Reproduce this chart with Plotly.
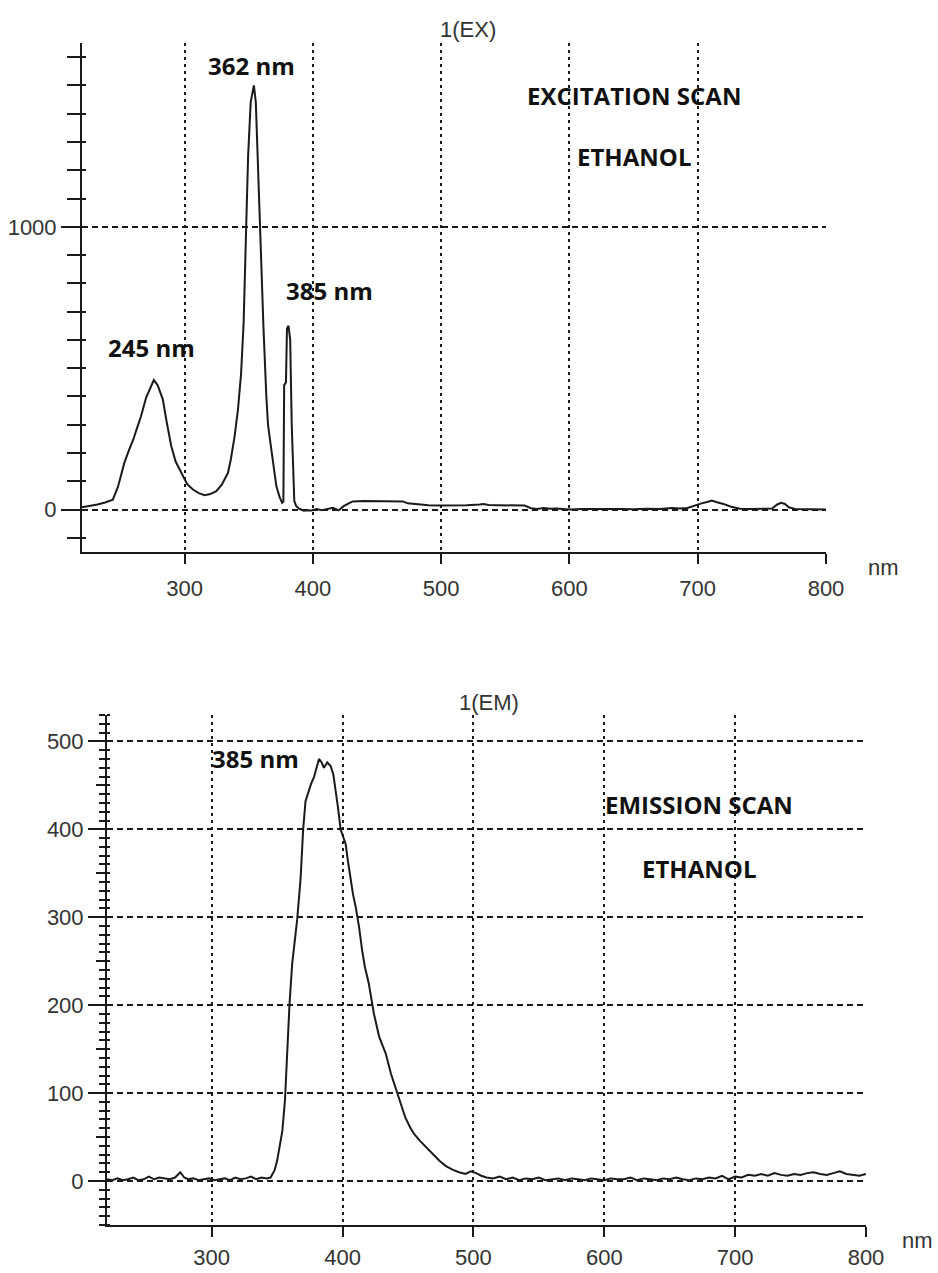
import plotly.graph_objects as go

# ---------------- data ----------------
ex_wavelength = [220, 226, 232, 238, 244, 248, 253, 257, 260, 263, 266, 270, 273, 276, 279, 283, 286,
                 289.6, 293, 298.7, 302, 306.5, 311, 315.6, 320, 324.7, 329, 333.8, 336, 339, 341.6,
                 344, 346, 348, 349.5, 351.5, 353, 354, 355.5, 356.7, 358.5, 360.3, 361.5, 363.7, 365,
                 367.6, 369.5, 371.5, 374, 376, 377, 377.6, 379, 379.8, 381, 382.3, 383.5, 384.5, 385.5,
                 387, 389.7, 393, 396, 399, 403, 407, 411, 415.7, 420, 424, 428, 431, 440, 450, 460,
                 470, 474, 480, 483, 490, 500, 510, 520, 530, 533, 537, 545, 555, 565, 570, 575, 580,
                 585, 590, 600, 610, 620, 630, 640, 650, 660, 670, 680, 686, 692, 697, 703, 708, 711,
                 715, 720, 726, 733, 740, 750, 758, 762, 765, 768, 771, 776, 785, 795, 800]
ex_intensity = [8, 12, 18, 25, 35, 80, 165, 215, 248, 290, 330, 396, 430, 458, 440, 390, 310,
                224, 170, 118, 90, 71, 58, 51, 55, 65, 88, 130, 177, 260, 354,
                480, 660, 1000, 1250, 1440, 1480, 1500, 1440, 1280, 1003, 800, 640, 401, 300,
                212, 140, 83, 45, 24, 28, 440, 450, 640, 650, 600, 300, 120, 30,
                12, 2, -4, -2, -3, 2, -2, 1, 6, -3, 12, 22, 29, 30, 30, 30,
                29, 22, 19, 17, 15, 14, 14, 15, 18, 20, 16, 15, 15, 14, 5, 2, 6,
                3, 4, 0, 2, 1, 2, 2, 1, 3, 2, 6, 4, 6, 14, 22, 28, 32,
                26, 20, 10, 3, 2, 2, 4, 18, 24, 20, 8, 2, 1, 1, 0]

em_wavelength = [220, 224, 228, 232, 236, 240, 244, 248, 252, 256, 260, 264, 268, 272, 276, 279, 282,
                 286, 290, 294, 298, 302, 306, 310, 314, 318, 322, 326, 330, 334, 338, 342, 345, 348,
                 350, 352, 354, 356, 357.7, 359.5, 361.5, 363.5, 365.3, 367.9, 369.9, 371.7, 374.3,
                 376, 378.1, 380, 382, 384, 385.8, 388.3, 390.9, 393, 394.7, 396.5, 398.5, 400.5,
                 402.4, 404, 406.2, 408, 410, 412.6, 415, 417, 420, 424, 428, 433, 437, 441, 445,
                 448, 452, 455, 459, 464, 469, 474, 479, 484, 489, 494, 498, 502, 506, 510, 515,
                 520, 525, 530, 535, 540, 545, 550, 555, 560, 565, 570, 575, 580, 585, 590, 595,
                 600, 605, 610, 615, 620, 625, 630, 635, 640, 645, 650, 655, 660, 665, 670, 675,
                 680, 685, 690, 695, 700, 705, 710, 715, 720, 725, 730, 735, 740, 745, 750, 755,
                 760, 765, 770, 775, 780, 785, 790, 795, 800]
em_intensity = [2, 1, 3, 1, 2, 4, 1, 2, 5, 2, 4, 3, 2, 4, 10, 4, 2,
                3, 1, 2, 3, 1, 2, 3, 1, 4, 2, 3, 5, 2, 4, 3, 4, 12,
                23, 38, 57, 92, 148, 202, 247, 272, 297, 343, 400, 432, 445,
                452, 459, 468, 480, 476, 470, 476, 472, 462, 445, 425, 400, 392,
                383, 365, 343, 326, 312, 289, 262, 244, 225, 190, 164, 145, 122, 103, 86,
                72, 60, 53, 46, 38, 30, 23, 17, 13, 10, 8, 11, 9, 6, 4, 3,
                5, 2, 4, 1, 3, 2, 4, 1, 2, 3, 1, 3, 2, 1, 3, 2,
                1, 3, 2, 2, 4, 1, 3, 2, 1, 3, 2, 4, 2, 1, 3, 2,
                4, 3, 6, 2, 5, 4, 7, 6, 8, 6, 9, 7, 6, 8, 7, 9,
                10, 8, 7, 9, 11, 8, 7, 6, 8]

x_ticks = [300, 400, 500, 600, 700, 800]
ex_y_ticks = [0, 1000]
em_y_ticks = [0, 100, 200, 300, 400, 500]
em_y_mid_ticks = [50, 150, 250, 350, 450]

# ---------------- figure ----------------
W, H = 938, 1273
def px(v):
    return v / W
def py(v):
    return 1 - v / H

TICKFONT = dict(family="Liberation Sans, Arial, sans-serif", size=22, color="#333333")
LBLFONT = dict(family="Open Sans, sans-serif", size=24, color="#111111", weight="bold")
INK = "#1a1a1a"

fig = go.Figure()
fig.add_trace(go.Scatter(x=ex_wavelength, y=ex_intensity, mode="lines",
                         line=dict(color=INK, width=2), xaxis="x", yaxis="y",
                         showlegend=False, hoverinfo="skip"))
fig.add_trace(go.Scatter(x=em_wavelength, y=em_intensity, mode="lines",
                         line=dict(color=INK, width=2), xaxis="x2", yaxis="y2",
                         showlegend=False, hoverinfo="skip"))
# empty traces to activate overlay axes (for crossing ticks)
fig.add_trace(go.Scatter(x=[], y=[], xaxis="x", yaxis="y3", showlegend=False, hoverinfo="skip"))
fig.add_trace(go.Scatter(x=[], y=[], xaxis="x2", yaxis="y4", showlegend=False, hoverinfo="skip"))

xcommon = dict(range=[220, 800], tickmode="array", tickvals=x_ticks, ticks="outside", ticklen=10,
               tickwidth=2, tickcolor=INK, showline=True, linecolor=INK, linewidth=2,
               showgrid=True, gridcolor=INK, gridwidth=2, griddash="3px,4px",
               zeroline=False, tickfont=TICKFONT, fixedrange=True, automargin=False)

fig.update_layout(
    template="none",
    width=W, height=H, margin=dict(l=0, r=0, t=0, b=0, autoexpand=False),
    paper_bgcolor="white", plot_bgcolor="white",
    xaxis=dict(domain=[px(82), px(826)], anchor="y", ticklabelstandoff=6, **xcommon),
    yaxis=dict(domain=[py(552), py(43)], anchor="x", range=[-150, 1650], tickmode="array",
               tickvals=ex_y_ticks, ticks="outside", ticklen=19, tickwidth=2, tickcolor=INK,
               minor=dict(tick0=0, dtick=100, ticks="outside", ticklen=13, tickwidth=2,
                          tickcolor=INK, showgrid=False),
               showline=True, linecolor=INK, linewidth=2, showgrid=True, gridcolor=INK,
               gridwidth=1.8, griddash="6px,4px", zeroline=False, tickfont=TICKFONT,
               fixedrange=True, automargin=False),
    yaxis3=dict(overlaying="y", anchor="x", side="left", range=[-150, 1650], tickmode="array",
                tickvals=ex_y_ticks, ticks="inside", ticklen=4, tickwidth=2, tickcolor=INK,
                minor=dict(tick0=0, dtick=100, ticks="inside", ticklen=4, tickwidth=2,
                           tickcolor=INK, showgrid=False),
                showticklabels=False, showgrid=False, zeroline=False, showline=False,
                fixedrange=True, automargin=False),
    xaxis2=dict(domain=[px(107), px(866)], anchor="y2", ticklabelstandoff=2, **xcommon),
    yaxis2=dict(domain=[py(1225), py(715)], anchor="x2", range=[-50, 530], tickmode="array",
                tickvals=em_y_ticks, ticks="outside", ticklen=17, tickwidth=2, tickcolor=INK,
                minor=dict(tick0=0, dtick=10, ticks="outside", ticklen=6, tickwidth=1.8,
                           tickcolor=INK, showgrid=False),
                showline=True, linecolor=INK, linewidth=2, showgrid=True, gridcolor=INK,
                gridwidth=1.8, griddash="6px,4px", zeroline=False, tickfont=TICKFONT,
                fixedrange=True, automargin=False),
    yaxis4=dict(overlaying="y2", anchor="x2", side="left", range=[-50, 530], tickmode="array",
                tickvals=em_y_mid_ticks, ticks="outside", ticklen=10, tickwidth=1.8,
                tickcolor=INK,
                minor=dict(tick0=0, dtick=10, ticks="inside", ticklen=3, tickwidth=1.8,
                           tickcolor=INK, showgrid=False),
                showticklabels=False, showgrid=False, zeroline=False, showline=False,
                fixedrange=True, automargin=False),
)

anns = [
    # titles / axis units (paper coords)
    dict(text="1(EX)", x=px(468), y=py(30), xref="paper", yref="paper", font=TICKFONT),
    dict(text="nm", x=px(883), y=py(567), xref="paper", yref="paper", font=TICKFONT),
    dict(text="1(EM)", x=px(489), y=py(702), xref="paper", yref="paper", font=TICKFONT),
    dict(text="nm", x=px(917), y=py(1240), xref="paper", yref="paper", font=TICKFONT),
    # top chart labels (data coords)
    dict(text="362 nm", x=352.3, y=1569, xref="x", yref="y", font=LBLFONT),
    dict(text="385 nm", x=413, y=776, xref="x", yref="y", font=LBLFONT),
    dict(text="245 nm", x=274, y=574, xref="x", yref="y", font=LBLFONT),
    dict(text="EXCITATION SCAN", x=650, y=1463, xref="x", yref="y", font=LBLFONT),
    dict(text="ETHANOL", x=650, y=1247, xref="x", yref="y", font=LBLFONT),
    # bottom chart labels
    dict(text="385 nm", x=333.7, y=480, xref="x2", yref="y2", font=LBLFONT),
    dict(text="EMISSION SCAN", x=672, y=428, xref="x2", yref="y2", font=LBLFONT),
    dict(text="ETHANOL", x=672, y=356, xref="x2", yref="y2", font=LBLFONT),
]
for a in anns:
    fig.add_annotation(showarrow=False, xanchor="center", yanchor="middle", **a)

fig.write_html("out.html")
